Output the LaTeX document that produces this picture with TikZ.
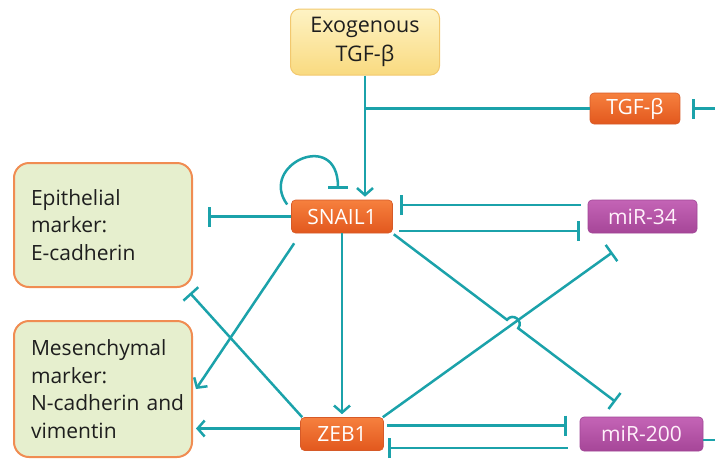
\documentclass[tikz,border=0pt]{standalone}
\usepackage{fontspec}
\setmainfont{Open Sans}
\usetikzlibrary{arrows.meta,calc,shapes.misc}
\definecolor{tealL}{RGB}{27,162,170}
\definecolor{orTop}{RGB}{246,128,62}
\definecolor{orBot}{RGB}{226,88,30}
\definecolor{orDraw}{RGB}{214,90,40}
\definecolor{puTop}{RGB}{196,100,182}
\definecolor{puBot}{RGB}{166,70,152}
\definecolor{puDraw}{RGB}{160,70,150}
\definecolor{grFill}{RGB}{230,239,206}
\definecolor{grDraw}{RGB}{240,140,82}
\definecolor{yeTop}{RGB}{254,243,196}
\definecolor{yeBot}{RGB}{249,218,128}
\definecolor{yeDraw}{RGB}{242,200,110}
\definecolor{txtD}{RGB}{30,30,30}
\tikzset{
  conn/.style={draw=tealL, line width=2.5pt},
  act/.style={conn, -{Straight Barb[length=7pt,width=16pt]}},
  inh/.style={conn, -{Bar[width=20pt]}},
  gene/.style={rectangle, rounded corners=4pt, inner sep=0pt, text=white,
    font=\fontsize{21}{25}\selectfont, top color=orTop, bottom color=orBot, draw=orDraw, line width=0.6pt},
  mirna/.style={gene, top color=puTop, bottom color=puBot, draw=puDraw, text={rgb,255:red,255;green,240;blue,250}},
  marker/.style={rectangle, rounded corners=15pt, fill=grFill, draw=grDraw, line width=2pt,
    minimum width=178pt, inner xsep=17pt, text width=144pt, align=left, text=txtD,
    font=\fontsize{21}{27.5}\selectfont},
  exobox/.style={rectangle, rounded corners=9pt, top color=yeTop, bottom color=yeBot, draw=yeDraw,
    line width=1pt, align=center, text=txtD, minimum width=149pt, minimum height=66pt,
    font=\fontsize{21.5}{29}\selectfont}
}
\begin{document}
\begin{tikzpicture}[x=1pt,y=-1pt]
\useasboundingbox (0,0) rectangle (715,459);
% nodes
\node[exobox] (exo) at (365,42) {Exogenous\\TGF-β};
\node[gene, minimum width=90pt, minimum height=31pt] (tgfb) at (635,108.5) {TGF-β};
\node[gene, minimum width=101pt, minimum height=33pt] (snail) at (342,216.5) {SNAIL1};
\node[mirna, minimum width=109pt, minimum height=33pt] (mir34) at (642.5,216.5) {miR-34};
\node[gene, minimum width=83pt, minimum height=33pt] (zeb) at (342,434) {ZEB1};
\node[mirna, minimum width=123pt, minimum height=34pt] (mir200) at (641.5,434) {miR-200};
\node[marker, minimum height=124pt] (epi) at (103,225) {Epithelial\\marker:\\E-cadherin};
\node[marker, minimum height=136pt] (mes) at (103,389) {Mesenchymal\\marker:\\\mbox{N-cadherin and}\\vimentin};
% free ends at the picture edge
\coordinate (rt) at (715,108.5);
\coordinate (rb) at (715,440);
% connectors
\draw[act] (exo.south) -- ([yshift=3pt]exo.south |- snail.north);
\draw[conn] (exo.south |- tgfb.west) -- (tgfb.west);
\draw[inh] (rt) -- ([xshift=12pt]tgfb.east);
\draw[inh] ([shift={(-7pt,11.5pt)}]mir34.west) -- ([shift={(7.5pt,11.5pt)}]snail.east);
\draw[inh] ([shift={(6.5pt,-14.5pt)}]snail.east) -- ([shift={(-8pt,-14.5pt)}]mir34.west);
\draw[inh] ([shift={(-4pt,12pt)}]snail.west) .. controls (258,165) and (338,128) .. ([shift={(-4pt,11pt)}]snail.north);
\draw[inh] (snail.west) -- ([xshift=15pt]snail.west -| epi.east);
\draw[act] ([shift={(3pt,-10pt)}]snail.south west) -- ([xshift=3pt]mes.east);
\draw[act] (snail.south) -- ([yshift=3pt]zeb.north);
\draw[act] ([yshift=5.5pt]zeb.west) -- ([shift={(3pt,5.5pt)}]zeb.west -| mes.east);
\draw[inh] ([xshift=2pt]zeb.north west) -- ([shift={(-3pt,-5pt)}]epi.south east);
\coordinate (z1) at ([xshift=-1pt]zeb.north east);
\coordinate (m1) at ([shift={(-30pt,-19pt)}]mir34.south);
\draw[inh] (z1) -- (m1);
\coordinate (s1) at ([shift={(1pt,-1pt)}]snail.south east);
\coordinate (m2) at ([shift={(-26pt,15pt)}]mir200.north);
\coordinate (X) at (intersection of s1--m2 and z1--m1);
\coordinate (P1) at ($(X)!7pt!(s1)$);
\coordinate (P2) at ($(X)!7pt!(m2)$);
\draw[inh] (s1) -- (P1) .. controls ($(P1)!1.333!90:(X)$) and ($(P2)!1.333!-90:(X)$) .. (P2) -- (m2);
\draw[inh] ([shift={(3.5pt,8.5pt)}]zeb.east) -- ([shift={(-13pt,8.5pt)}]mir200.west);
\draw[inh] ([shift={(-12pt,-14pt)}]mir200.west) -- ([shift={(4.5pt,-14pt)}]zeb.east);
\draw[conn] ([yshift=-6pt]mir200.east) -- (rb);
\end{tikzpicture}
\end{document}
